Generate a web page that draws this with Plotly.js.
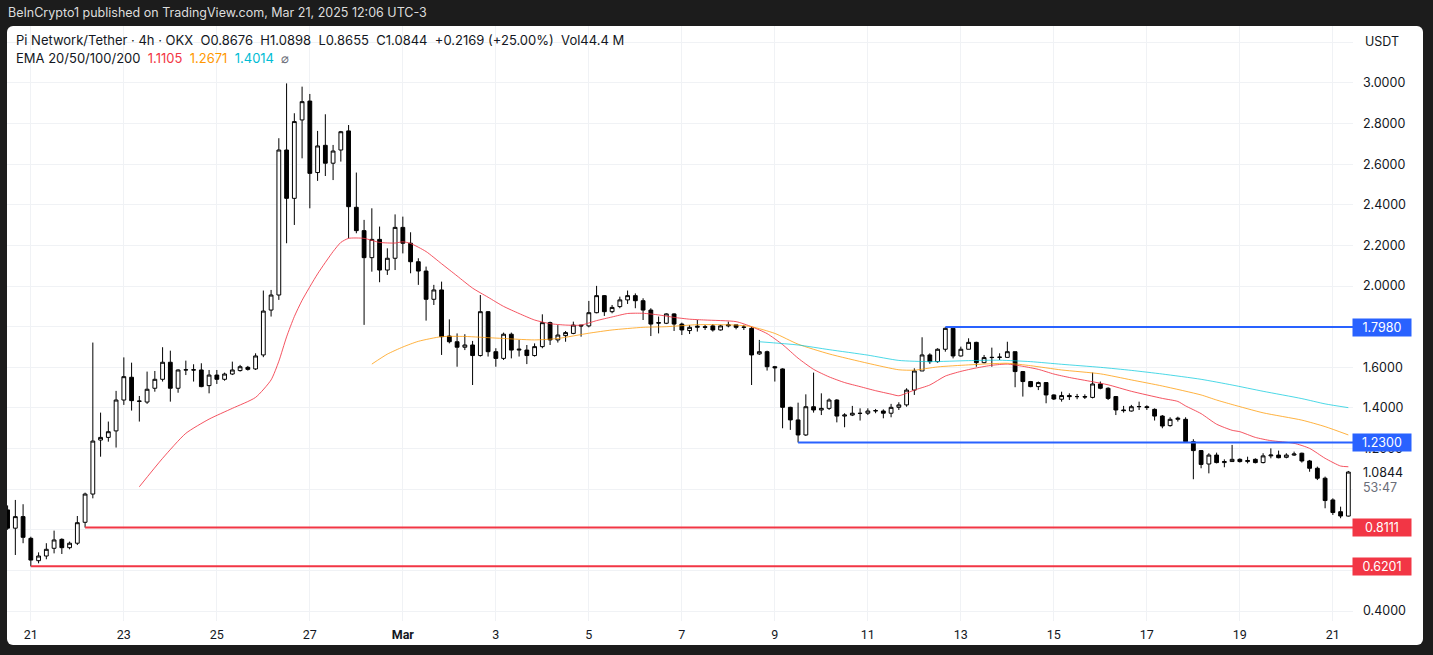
<!DOCTYPE html>
<html>
<head>
<meta charset="utf-8">
<script src="https://cdn.plot.ly/plotly-3.0.1.min.js"></script>
<style>
  html, body { margin:0; padding:0; background:#1c1c1c; }
  #wrap { position:relative; width:1433px; height:655px; background:#1c1c1c; overflow:hidden; }
  #panel { position:absolute; left:7px; top:26px; width:1416px; height:619px; background:#ffffff; border-radius:6px; }
  #chart { position:absolute; left:0; top:0; width:1433px; height:655px; }
</style>
</head>
<body>
<div id="wrap"><div id="panel"></div><div id="chart"></div></div>
<script>
// ---- Candle data (4h bars, PI/USDT, OKX), first bar Feb 20 13:00 (UTC-3) ----
const barStart = '2025-02-20T13:00:00Z';
const open = [0.898,0.808,0.865,0.758,0.648,0.671,0.709,0.753,0.712,0.734,
 0.837,0.976,1.242,1.255,1.287,1.439,1.551,1.434,1.429,1.497,
 1.541,1.625,1.497,1.587,1.588,1.587,1.510,1.562,1.541,1.567,
 1.584,1.600,1.592,1.661,1.882,1.956,2.670,2.432,2.818,2.911,
 2.559,2.693,2.605,2.670,2.764,2.388,2.273,2.140,2.230,2.079,
 2.137,2.289,2.211,2.120,2.074,1.935,1.981,1.754,1.726,1.699,
 1.710,1.658,1.874,1.677,1.644,1.763,1.685,1.685,1.658,1.702,
 1.820,1.735,1.756,1.767,1.808,1.804,1.869,1.953,1.874,1.899,
 1.932,1.953,1.928,1.882,1.820,1.817,1.863,1.813,1.781,1.797,
 1.800,1.804,1.784,1.804,1.809,1.797,1.792,1.666,1.677,1.603,
 1.592,1.403,1.341,1.267,1.406,1.390,1.398,1.439,1.360,1.365,
 1.374,1.374,1.385,1.385,1.374,1.403,1.415,1.488,1.582,1.661,
 1.628,1.689,1.792,1.656,1.689,1.723,1.623,1.648,1.649,1.649,
 1.677,1.579,1.530,1.505,1.525,1.464,1.443,1.461,1.456,1.456,
 1.452,1.518,1.497,1.456,1.390,1.385,1.406,1.406,1.393,1.360,
 1.313,1.344,1.344,1.234,1.190,1.124,1.168,1.131,1.136,1.147,
 1.136,1.147,1.131,1.164,1.168,1.157,1.168,1.177,1.139,1.103,
 1.054,0.947,0.889,0.8676];
const high = [0.920,0.947,0.926,0.766,0.689,0.734,0.796,0.758,0.742,0.868,
 0.983,1.722,1.377,1.333,1.484,1.649,1.623,1.459,1.579,1.582,
 1.699,1.682,1.590,1.633,1.615,1.620,1.587,1.587,1.574,1.628,
 1.612,1.607,1.669,1.978,1.981,2.728,2.998,2.851,2.982,2.946,
 2.764,2.846,2.695,2.764,2.793,2.559,2.326,2.383,2.293,2.186,
 2.353,2.342,2.265,2.137,2.096,2.006,2.022,1.836,1.767,1.763,
 1.730,1.956,1.877,1.694,1.771,1.771,1.735,1.710,1.718,1.861,
 1.825,1.808,1.779,1.825,1.808,1.927,2.001,1.956,1.907,1.948,
 1.978,1.964,1.940,1.891,1.850,1.866,1.866,1.820,1.808,1.833,
 1.809,1.813,1.809,1.825,1.809,1.809,1.800,1.735,1.682,1.607,
 1.595,1.406,1.426,1.467,1.574,1.472,1.447,1.443,1.374,1.410,
 1.398,1.398,1.395,1.393,1.420,1.428,1.497,1.595,1.748,1.669,
 1.694,1.798,1.792,1.702,1.743,1.726,1.661,1.697,1.669,1.726,
 1.677,1.582,1.533,1.530,1.525,1.467,1.480,1.472,1.469,1.467,
 1.574,1.530,1.502,1.459,1.410,1.415,1.431,1.413,1.398,1.365,
 1.354,1.357,1.354,1.246,1.193,1.177,1.180,1.147,1.218,1.152,
 1.160,1.152,1.177,1.201,1.190,1.177,1.185,1.180,1.144,1.111,
 1.062,0.955,0.914,1.0898];
const low = [0.800,0.676,0.734,0.620,0.635,0.655,0.684,0.681,0.704,0.725,
 0.811,0.955,1.160,1.234,1.205,1.415,1.387,1.333,1.420,1.480,
 1.530,1.431,1.475,1.562,1.530,1.502,1.472,1.518,1.534,1.562,
 1.579,1.584,1.587,1.650,1.850,1.932,2.211,2.301,2.629,2.383,
 2.518,2.542,2.522,2.613,2.235,2.260,1.809,2.071,2.019,2.055,
 2.079,2.161,2.063,2.006,1.830,1.907,1.661,1.718,1.603,1.685,
 1.513,1.653,1.653,1.603,1.636,1.644,1.653,1.616,1.653,1.694,
 1.710,1.722,1.726,1.763,1.751,1.797,1.866,1.853,1.866,1.891,
 1.912,1.891,1.833,1.754,1.767,1.813,1.779,1.759,1.764,1.776,
 1.784,1.776,1.781,1.797,1.787,1.784,1.513,1.661,1.584,1.530,
 1.300,1.292,1.230,1.262,1.377,1.365,1.390,1.329,1.305,1.360,
 1.338,1.365,1.374,1.349,1.354,1.390,1.406,1.464,1.582,1.617,
 1.623,1.677,1.644,1.653,1.689,1.603,1.620,1.603,1.636,1.649,
 1.502,1.456,1.502,1.488,1.423,1.439,1.431,1.439,1.443,1.444,
 1.447,1.492,1.439,1.365,1.377,1.382,1.390,1.390,1.338,1.300,
 1.308,1.333,1.234,1.049,1.103,1.078,1.127,1.108,1.136,1.131,
 1.127,1.127,1.127,1.152,1.152,1.152,1.164,1.131,1.086,1.045,
 0.906,0.873,0.857,0.8655];
const close = [0.808,0.865,0.763,0.651,0.671,0.704,0.750,0.712,0.734,0.835,
 0.976,1.237,1.255,1.283,1.439,1.554,1.436,1.433,1.492,1.541,
 1.625,1.497,1.587,1.588,1.587,1.505,1.562,1.541,1.567,1.587,
 1.603,1.590,1.656,1.877,1.956,2.670,2.432,2.810,2.908,2.555,
 2.690,2.605,2.665,2.760,2.391,2.273,2.140,2.230,2.079,2.137,
 2.289,2.211,2.120,2.074,1.935,1.981,1.751,1.726,1.699,1.710,
 1.658,1.874,1.677,1.644,1.763,1.685,1.689,1.658,1.702,1.820,
 1.735,1.759,1.771,1.808,1.804,1.869,1.953,1.874,1.895,1.932,
 1.953,1.928,1.882,1.813,1.818,1.863,1.813,1.784,1.797,1.802,
 1.797,1.784,1.804,1.809,1.797,1.798,1.661,1.677,1.603,1.598,
 1.403,1.341,1.267,1.406,1.390,1.398,1.439,1.360,1.365,1.374,
 1.373,1.385,1.387,1.374,1.403,1.415,1.488,1.582,1.661,1.628,
 1.689,1.792,1.656,1.689,1.723,1.623,1.648,1.649,1.650,1.677,
 1.579,1.530,1.505,1.525,1.464,1.444,1.461,1.456,1.456,1.454,
 1.518,1.497,1.447,1.390,1.387,1.406,1.407,1.402,1.360,1.311,
 1.344,1.349,1.234,1.190,1.122,1.168,1.131,1.136,1.147,1.136,
 1.141,1.131,1.164,1.168,1.155,1.168,1.173,1.139,1.103,1.054,
 0.944,0.885,0.868,1.0844];

// ---- EMA lines, sampled at bar numbers ----
const ema20Bar = [17,20,23,26,29,32,34,35,36,37,38,40,42,43,44,46,48,50,51,52,54,56,58,60,62,64,66,68,70,72,74,76,78,80,82,84,86,88,90,94,96,98,100,102,104,106,108,110,112,114,115,117,119,121,123,125,127,129,131,133,135,137,140,142,145,149,151,152,154,156,158,159,161,163,166,168,170,172,173];
const ema20Val = [1.012,1.152,1.275,1.345,1.398,1.452,1.538,1.63,1.75,1.85,1.93,2.06,2.17,2.215,2.235,2.235,2.215,2.212,2.218,2.21,2.17,2.11,2.05,1.99,1.945,1.90,1.865,1.833,1.815,1.808,1.808,1.83,1.848,1.865,1.866,1.858,1.846,1.837,1.833,1.825,1.80,1.766,1.712,1.645,1.59,1.553,1.525,1.505,1.485,1.468,1.460,1.488,1.513,1.557,1.58,1.597,1.61,1.616,1.605,1.59,1.567,1.55,1.529,1.514,1.482,1.447,1.432,1.41,1.372,1.32,1.29,1.283,1.255,1.239,1.226,1.201,1.152,1.114,1.1105];
const ema50Bar = [47,49,51,53,56,59,63,68,71,75,78,82,85,89,94,96,99,102,106,111,115,117,120,124,129,132,136,141,145,149,154,156,158,162,167,170,173];
const ema50Val = [1.616,1.665,1.70,1.728,1.751,1.752,1.744,1.735,1.742,1.768,1.784,1.797,1.80,1.81,1.808,1.80,1.767,1.714,1.666,1.62,1.588,1.586,1.602,1.612,1.62,1.608,1.587,1.568,1.538,1.508,1.464,1.439,1.417,1.376,1.34,1.308,1.2671];
const ema100Bar = [97,102,106,111,115,119,124,128,132,136,141,145,149,154,158,162,167,170,173];
const ema100Val = [1.726,1.71,1.687,1.66,1.634,1.628,1.633,1.635,1.628,1.615,1.60,1.585,1.567,1.541,1.513,1.482,1.446,1.42,1.4014];

// ---- Horizontal levels ----
const levelVal = [1.798, 1.23, 0.8111, 0.6201];
const levelText = ['1.7980', '1.2300', '0.8111', '0.6201'];
const levelFromBar = [121, 102, 10, 3];
const levelColor = ['#2962ff', '#2962ff', '#f23645', '#f23645'];

// ---- Axis ticks ----
const xTickDates = ['2025-02-21 01:00','2025-02-23 01:00','2025-02-25 01:00','2025-02-27 01:00','2025-03-01 01:00','2025-03-03 01:00','2025-03-05 01:00','2025-03-07 01:00','2025-03-09 01:00','2025-03-11 01:00','2025-03-13 01:00','2025-03-15 01:00','2025-03-17 01:00','2025-03-19 01:00','2025-03-21 01:00'];
const xTickText = ['21','23','25','27','<b>Mar</b>','3','5','7','9','11','13','15','17','19','21'];
const yTickVals = [0.4,0.6,0.8,1.0,1.2,1.4,1.6,1.8,2.0,2.2,2.4,2.6,2.8,3.0,3.2];
const yTickText = ['0.4000','','','','1.2000','1.4000','1.6000','','2.0000','2.2000','2.4000','2.6000','2.8000','3.0000',''];

// bar times (4h grid)
const t0 = Date.parse(barStart);
const times = open.map((_, i) => new Date(t0 + i * 4 * 3600e3).toISOString().slice(0, 16).replace('T', ' '));
const xRange = ['2025-02-20 12:42', '2025-03-21 11:24'];

const FONT = 'Inter, "Noto Sans", sans-serif';
const INK = '#131722';
const GAP = '\u00a0 ';

const emaTrace = (bars, vals, color) => ({
  type: 'scatter', mode: 'lines', x: bars.map(k => times[k]), y: vals,
  line: { color: color, width: 1, shape: 'spline', smoothing: 0.6 }, hoverinfo: 'skip'
});

const traces = [
  emaTrace(ema20Bar, ema20Val, 'rgba(242,54,69,0.85)'),
  emaTrace(ema50Bar, ema50Val, 'rgba(255,152,0,0.75)'),
  emaTrace(ema100Bar, ema100Val, 'rgba(0,200,220,0.7)'),
  {
    type: 'candlestick', x: times, open: open, high: high, low: low, close: close,
    increasing: { line: { color: '#000000', width: 1 }, fillcolor: '#ffffff' },
    decreasing: { line: { color: '#000000', width: 1 }, fillcolor: '#000000' },
    whiskerwidth: 0, hoverinfo: 'skip'
  }
];

const shapes = levelVal.map((v, i) => ({
  type: 'line', xref: 'x', yref: 'y', x0: times[levelFromBar[i]], x1: xRange[1], y0: v, y1: v,
  line: { color: levelColor[i], width: 2 }, layer: 'above'
}));

const plotH = 655 - 26 - 34;
const py = Y => (655 - 34 - Y) / plotH;

const annotations = [
  { xref: 'paper', yref: 'paper', x: 0, y: py(12), xanchor: 'left', yanchor: 'middle', xshift: -1, showarrow: false,
    text: 'BeInCrypto1 published on TradingView.com, Mar 21, 2025 12:06 UTC-3', font: { family: FONT, size: 12.5, color: '#dddddd' } },
  { xref: 'paper', yref: 'paper', x: 0, y: py(40), xanchor: 'left', yanchor: 'middle', xshift: 7, showarrow: false,
    text: 'Pi Network/Tether · 4h · OKX' + GAP + 'O0.8676' + GAP + 'H1.0898' + GAP + 'L0.8655' + GAP + 'C1.0844' + GAP + '+0.2169 (+25.00%)' + GAP + 'Vol44.4\u00a0M',
    font: { family: FONT, size: 13, color: INK } },
  { xref: 'paper', yref: 'paper', x: 0, y: py(58), xanchor: 'left', yanchor: 'middle', xshift: 7, showarrow: false,
    text: 'EMA 20/50/100/200' + GAP + '<span style="color:#f23645">1.1105</span>' + GAP + '<span style="color:#ff9800">1.2671</span>' + GAP + '<span style="color:#00bcd4">1.4014</span>' + GAP + '<span style="color:#6a6d78">⌀</span>',
    font: { family: FONT, size: 13, color: INK } },
  { xref: 'paper', yref: 'paper', x: 1, y: py(41), xanchor: 'center', yanchor: 'middle', xshift: 29, showarrow: false,
    text: 'USDT', font: { family: FONT, size: 12.5, color: INK } },
  { xref: 'paper', yref: 'y', x: 1, y: close[close.length - 1], xanchor: 'left', yanchor: 'middle', xshift: 8, showarrow: false,
    text: '1.0844', font: { family: FONT, size: 12.5, color: INK } },
  { xref: 'paper', yref: 'y', x: 1, y: close[close.length - 1], xanchor: 'left', yanchor: 'middle', xshift: 8, yshift: -15, showarrow: false,
    text: '53:47', font: { family: FONT, size: 12.5, color: '#6a6d78' } }
].concat(levelVal.map((v, i) => ({
  xref: 'paper', yref: 'y', x: 1, y: v, xanchor: 'left', yanchor: 'middle', xshift: -1, showarrow: false,
  text: levelText[i], bgcolor: levelColor[i], width: 56, height: 15, borderpad: 1, align: 'center',
  font: { family: FONT, size: 12.5, color: '#ffffff' }
})));

const layout = {
  width: 1433, height: 655,
  margin: { l: 7, r: 80, t: 26, b: 34 },
  paper_bgcolor: 'rgba(0,0,0,0)', plot_bgcolor: 'rgba(0,0,0,0)',
  showlegend: false, hovermode: false,
  xaxis: {
    type: 'date', range: xRange, tickmode: 'array', tickvals: xTickDates, ticktext: xTickText,
    showgrid: true, gridcolor: '#f0f2f5', gridwidth: 1, zeroline: false, showline: false, ticks: '',
    tickfont: { family: 'Roboto, ' + FONT, size: 12.5, color: INK }, ticklabelstandoff: 4,
    rangeslider: { visible: false }, fixedrange: true
  },
  yaxis: {
    side: 'right', range: [0.351, 3.2806], tickmode: 'array', tickvals: yTickVals, ticktext: yTickText,
    showgrid: true, gridcolor: '#f0f2f5', gridwidth: 1, zeroline: false, showline: false, ticks: '',
    tickfont: { family: FONT, size: 12.5, color: INK }, ticklabelstandoff: 9, fixedrange: true
  },
  shapes: shapes,
  annotations: annotations
};

Plotly.newPlot('chart', traces, layout, { displayModeBar: false, staticPlot: true });
</script>
</body>
</html>
